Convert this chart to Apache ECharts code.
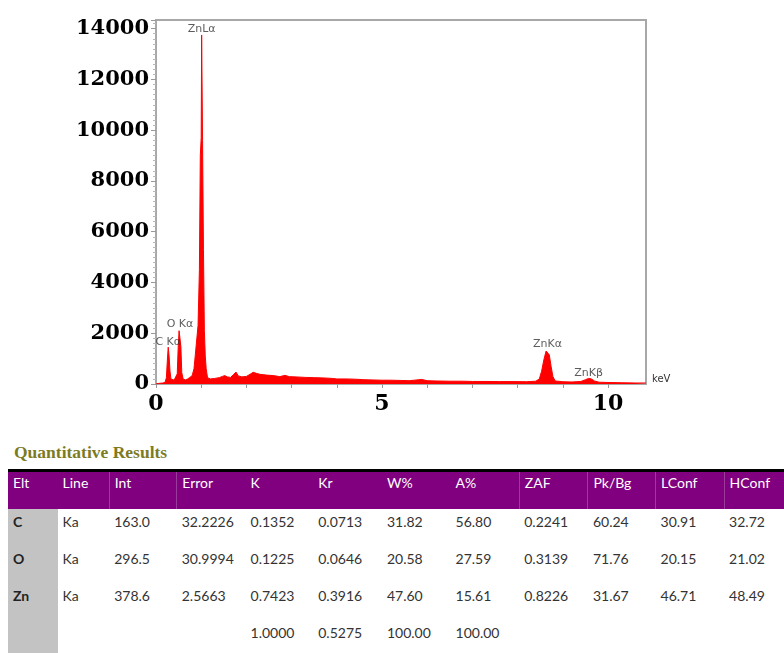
<!DOCTYPE html>
<html>
<head>
<meta charset="utf-8">
<script src="https://cdn.jsdelivr.net/npm/echarts@6/dist/echarts.min.js"></script>
<style>
  html, body { margin: 0; padding: 0; background: #fff; }
  #wrap { position: relative; width: 784px; height: 653px; overflow: hidden; }
  #chart { position: absolute; left: 0; top: 0; width: 784px; height: 420px; }
  #title { position: absolute; left: 14px; top: 442px; font-family: "Liberation Serif", serif; font-weight: bold;
           font-size: 17.5px; color: #7d7b1f; }
  #tbl { position: absolute; left: 8px; top: 469px; border-collapse: collapse; table-layout: fixed;
         font-family: Lato, "Open Sans", sans-serif; font-size: 14px; }
  #tbl thead tr { background: #800080; border-top: 3px solid #000; }
  #tbl th { color: #fff; font-weight: normal; text-align: left; vertical-align: top; height: 38px;
            padding: 2px 0 0 5px; box-sizing: border-box; }
  #tbl th.div { border-left: 1px solid #9a3a9a; }
  #tbl td { color: #333; text-align: left; vertical-align: top; height: 37.3px; padding: 4px 0 0 5px;
            box-sizing: border-box; white-space: nowrap; }
  #tbl td.elt { background: #c3c3c3; font-weight: bold; color: #222; }
</style>
</head>
<body>
<div id="wrap">
  <div id="chart"></div>
  <div id="title">Quantitative Results</div>
  <table id="tbl"><thead></thead><tbody></tbody></table>
</div>
<script>
// EDS spectrum: energy (keV) and counts
const energy = [
  0.00, 0.05, 0.10, 0.15, 0.20, 0.23, 0.25, 0.27, 0.29, 0.31, 0.33, 0.36, 0.40, 0.44, 0.47, 0.49, 0.51, 0.53,
  0.55, 0.57, 0.60, 0.65, 0.70, 0.75, 0.80, 0.84, 0.87, 0.90, 0.93, 0.96, 0.98, 1.00, 1.01, 1.03, 1.05, 1.07,
  1.09, 1.11, 1.14, 1.20, 1.30, 1.40, 1.47, 1.52, 1.58, 1.65, 1.72, 1.77, 1.82, 1.90, 2.00, 2.08, 2.15, 2.22,
  2.30, 2.45, 2.60, 2.74, 2.85, 2.95, 3.10, 3.30, 3.50, 3.70, 3.90, 4.00, 4.20, 4.40, 4.60, 4.80, 5.00, 5.20,
  5.40, 5.60, 5.88, 6.00, 6.20, 6.50, 6.80, 7.00, 7.30, 7.60, 7.90, 8.20, 8.40, 8.48, 8.53, 8.58, 8.63, 8.66,
  8.70, 8.74, 8.78, 8.83, 9.00, 9.20, 9.40, 9.50, 9.57, 9.63, 9.70, 9.80, 10.00, 10.30, 10.60, 10.84
];
const counts = [
  0, 20, 30, 40, 60, 250, 900, 1450, 1100, 500, 200, 160, 150, 180, 400, 1400, 2100, 2150,
  1500, 450, 200, 160, 200, 260, 330, 600, 1150, 1200, 2300, 4500, 9000, 9700, 13750, 9600, 5300, 2100,
  1100, 600, 250, 200, 220, 250, 300, 330, 280, 260, 380, 470, 320, 280, 300, 380, 460, 420,
  380, 350, 330, 290, 340, 290, 280, 260, 250, 240, 220, 200, 200, 190, 170, 160, 150, 150,
  140, 130, 180, 130, 120, 110, 110, 100, 100, 95, 95, 90, 110, 200, 500, 950, 1300, 1370,
  1150, 700, 300, 120, 90, 80, 100, 170, 220, 200, 120, 70, 60, 50, 40, 40
];

// Peak identifications
const peakNames = ['C K\u03b1', 'O K\u03b1', 'ZnL\u03b1', 'ZnK\u03b1', 'ZnK\u03b2'];
const peakEnergy = [0.27, 0.53, 1.01, 8.66, 9.57];

// Axis tick labels
const xTickLabels = [0, 5, 10];
const yTickLabels = [0, 2000, 4000, 6000, 8000, 10000, 12000, 14000];

// Quantitative results table
const tableHeader = ['Elt', 'Line', 'Int', 'Error', 'K', 'Kr', 'W%', 'A%', 'ZAF', 'Pk/Bg', 'LConf', 'HConf'];
const rowC  = ['C',  'Ka', '163.0', '32.2226', '0.1352', '0.0713', '31.82', '56.80', '0.2241', '60.24', '30.91', '32.72'];
const rowO  = ['O',  'Ka', '296.5', '30.9994', '0.1225', '0.0646', '20.58', '27.59', '0.3139', '71.76', '20.15', '21.02'];
const rowZn = ['Zn', 'Ka', '378.6', '2.5663',  '0.7423', '0.3916', '47.60', '15.61', '0.8226', '31.67', '46.71', '48.49'];
const rowTotal = ['', '', '', '', '1.0000', '0.5275', '100.00', '100.00', '', '', '', ''];

const colWidths = [50, 52, 68, 69, 68, 69, 69, 69, 69, 68, 69, 60];
const headerDividers = [2, 3, 8, 9, 10, 11];

// build table
(function () {
  const tbl = document.getElementById('tbl');
  const cg = document.createElement('colgroup');
  colWidths.forEach(w => { const c = document.createElement('col'); c.style.width = w + 'px'; cg.appendChild(c); });
  tbl.insertBefore(cg, tbl.firstChild);
  const hr = document.createElement('tr');
  tableHeader.forEach((h, i) => {
    const th = document.createElement('th');
    th.textContent = h;
    if (headerDividers.includes(i)) th.className = 'div';
    hr.appendChild(th);
  });
  tbl.tHead.appendChild(hr);
  [rowC, rowO, rowZn, rowTotal].forEach(r => {
    const tr = document.createElement('tr');
    r.forEach((v, i) => {
      const td = document.createElement('td');
      td.textContent = v;
      if (i === 0) td.className = 'elt';
      tr.appendChild(td);
    });
    tbl.tBodies[0].appendChild(tr);
  });
})();

const spectrum = energy.map((e, i) => [e, counts[i]]);
const peakPoints = peakEnergy.map((e, i) => {
  const idx = energy.indexOf(e);
  return { value: [e, counts[idx]], name: peakNames[i] };
});

const chart = echarts.init(document.getElementById('chart'));
const gray = '#a8a8a8';
chart.setOption({
  animation: false,
  grid: { left: 156, right: 138, top: 20, bottom: 36, show: true, borderColor: gray, borderWidth: 2 },
  xAxis: {
    type: 'value', min: 0, max: 10.84, interval: 1,
    axisLine: { show: true, lineStyle: { color: gray, width: 2 } },
    axisTick: { show: true, inside: false, length: 4, lineStyle: { color: '#999' } },
    splitLine: { show: false },
    axisLabel: {
      showMaxLabel: false, margin: 9,
      fontFamily: 'DejaVu Serif', fontWeight: 'bold', fontSize: 22, color: '#000',
      formatter: v => xTickLabels.includes(v) ? String(v) : ''
    },
    name: 'keV', nameLocation: 'end', nameGap: 6,
    nameTextStyle: { fontFamily: 'DejaVu Sans', fontSize: 10, color: '#333', verticalAlign: 'bottom', padding: [0, 0, 0, 0] }
  },
  yAxis: {
    type: 'value', min: 0, max: 14340, interval: 2000,
    axisLine: { show: true, lineStyle: { color: gray, width: 2 } },
    axisTick: { show: true, inside: false, length: 5, lineStyle: { color: '#999' } },
    minorTick: { show: true, splitNumber: 10, length: 3, lineStyle: { color: '#b8b8b8' } },
    splitLine: { show: false },
    axisLabel: {
      showMaxLabel: false, margin: 7,
      fontFamily: 'DejaVu Serif', fontWeight: 'bold', fontSize: 21, color: '#000',
      formatter: v => yTickLabels.includes(v) ? String(v) : ''
    }
  },
  series: [
    {
      type: 'line', data: spectrum, showSymbol: false, smooth: false,
      lineStyle: { color: '#ff0000', width: 1 },
      areaStyle: { color: '#ff0000', opacity: 1 },
      z: 2
    },
    {
      type: 'scatter', data: peakPoints, symbolSize: 0, z: 3,
      label: {
        show: true, position: 'top', distance: 0,
        formatter: p => p.name,
        fontFamily: 'DejaVu Sans', fontSize: 11, color: '#333'
      }
    }
  ]
});
</script>
</body>
</html>
